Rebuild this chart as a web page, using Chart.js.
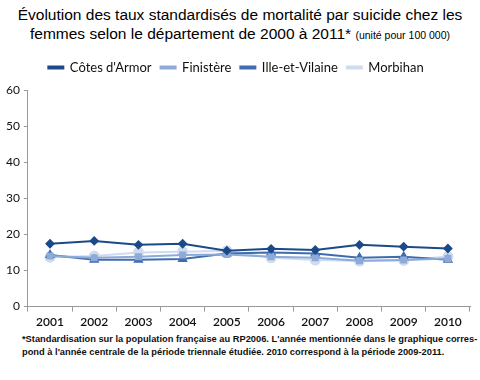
<!DOCTYPE html>
<html>
<head>
<meta charset="utf-8">
<script src="https://cdn.jsdelivr.net/npm/chart.js@4"></script>
<style>
  body { margin: 0; width: 480px; height: 380px; background: #fff; font-family: "Liberation Sans", Arial, sans-serif; position: relative; overflow: hidden; }
  #title { position: absolute; top: 5px; left: 0; width: 480px; text-align: center; font-size: 15.5px; line-height: 19px; color: #000; }
  #title small { font-size: 10.5px; }
  #wrap { position: absolute; top: 52px; left: 0; width: 480px; height: 280px; }
  #note { position: absolute; top: 333px; left: 22px; width: 458px; font-size: 9.3px; line-height: 13px; font-weight: bold; color: #111; white-space: nowrap; }
</style>
</head>
<body>
<div id="title">Évolution des taux standardisés de mortalité par suicide chez les<br>femmes selon le département de 2000 à 2011* <small>(unité pour 100 000)</small></div>
<div id="wrap"><canvas id="lineChart"></canvas></div>
<div id="note">*Standardisation sur la population française au RP2006. L'année mentionnée dans le graphique corres-<br>pond à l'année centrale de la période triennale étudiée. 2010 correspond à la période 2009-2011.</div>
<script>
var years = ['2001', '2002', '2003', '2004', '2005', '2006', '2007', '2008', '2009', '2010'];
var cotesArmor = [17.4, 18.2, 17.1, 17.4, 15.5, 16.0, 15.7, 17.1, 16.6, 16.1];
var finistere = [14.0, 13.5, 13.8, 14.3, 14.4, 13.8, 13.5, 12.7, 12.9, 13.3];
var illeVilaine = [14.3, 13.0, 13.0, 13.2, 14.7, 15.0, 14.7, 13.5, 13.8, 13.0];
var morbihan = [13.7, 14.0, 15.0, 15.2, 15.5, 13.5, 12.9, 12.6, 12.8, 13.9];

function serie(label, data, color, style, radius) {
    return {
        label: label,
        data: data,
        borderColor: color,
        backgroundColor: color,
        borderWidth: 2,
        pointStyle: style,
        pointRadius: radius,
        pointHoverRadius: radius,
        tension: 0
    };
}

// a bit more room under the legend
var legendGap = {
    id: 'legendGap',
    beforeInit: function (chart) {
        var fit = chart.legend.fit;
        chart.legend.fit = function () {
            fit.bind(chart.legend)();
            this.height += 6;
        };
    }
};

var ctx = document.getElementById('lineChart').getContext('2d');
var myChart = new Chart(ctx, {
    type: 'line',
    data: {
        labels: years,
        datasets: [
            serie("Côtes d'Armor", cotesArmor, '#1b4a8a', 'rectRot', 3.5),
            serie('Finistère', finistere, '#8eaad8', 'rect', 3.5),
            serie('Ille-et-Vilaine', illeVilaine, '#3f6cb0', 'triangle', 4),
            serie('Morbihan', morbihan, '#cfdcef', 'circle', 4.5)
        ]
    },
    plugins: [legendGap],
    options: {
        responsive: true,
        maintainAspectRatio: false,
        animation: false,
        layout: { padding: { left: 2, right: 10, top: 0, bottom: 0 } },
        plugins: {
            legend: {
                labels: {
                    font: { family: 'Lato', size: 13 },
                    color: '#111',
                    boxWidth: 15,
                    boxHeight: 2,
                    padding: 9
                }
            },
            tooltip: { enabled: false }
        },
        scales: {
            x: {
                offset: true,
                grid: { display: true, drawOnChartArea: false, offset: true, tickLength: 5, color: '#999' },
                border: { color: '#999' },
                ticks: { font: { family: 'Lato', size: 12, weight: '600' }, color: '#111', padding: 3 }
            },
            y: {
                min: 0,
                max: 60,
                ticks: { stepSize: 10, font: { family: 'Lato', size: 12 }, color: '#111', padding: 4 },
                grid: { display: true, drawOnChartArea: false, tickLength: 4, color: '#999' },
                border: { color: '#999' }
            }
        }
    }
});
</script>
</body>
</html>
